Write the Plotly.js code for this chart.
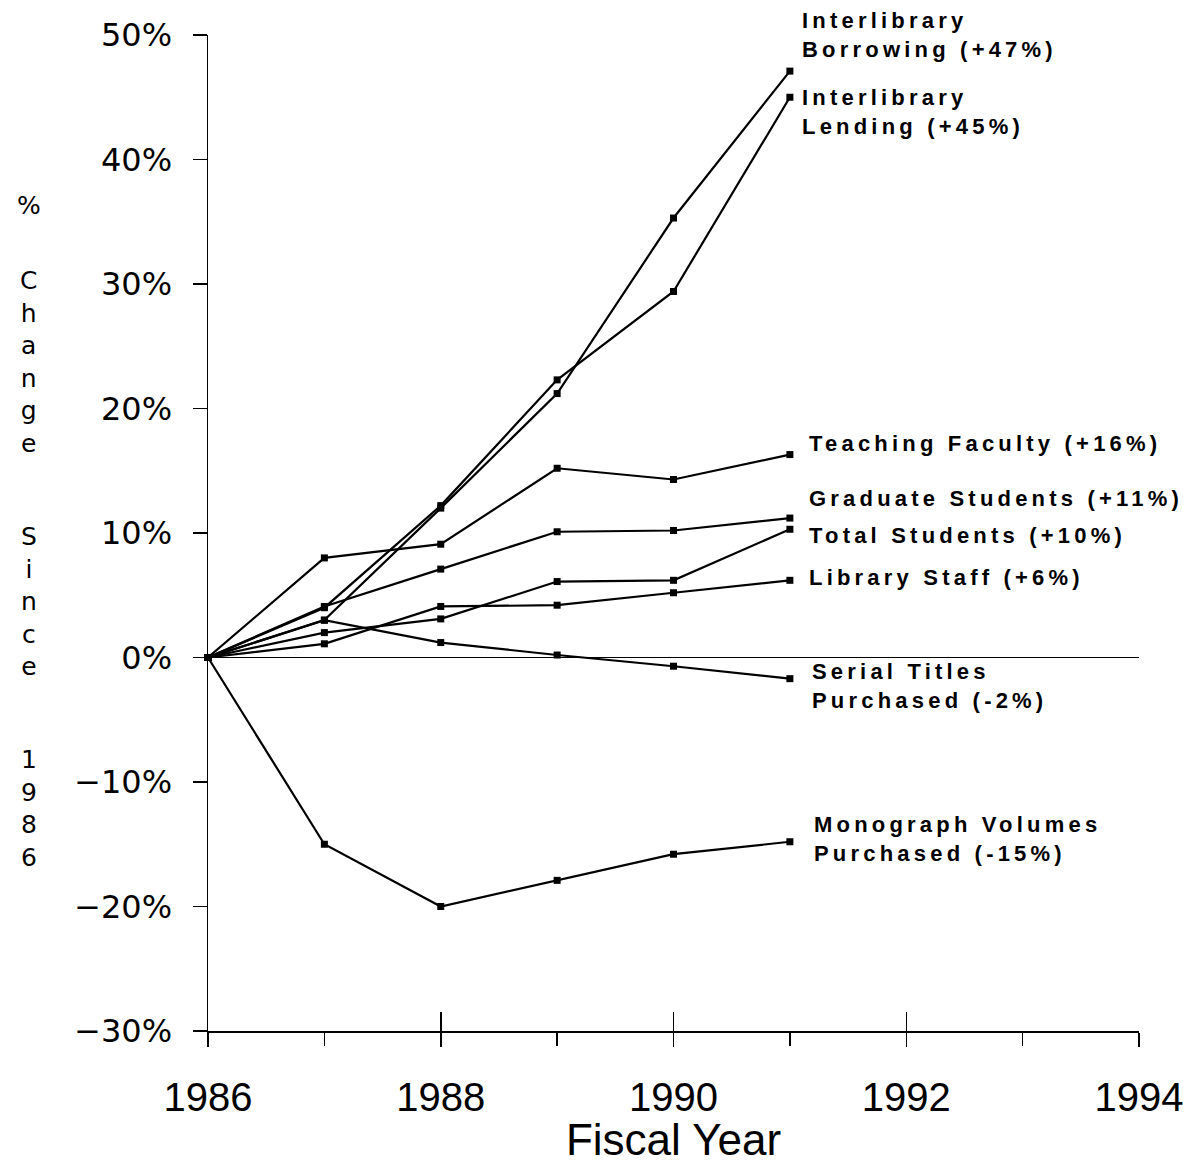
<!DOCTYPE html>
<html>
<head>
<meta charset="utf-8">
<script src="https://cdn.plot.ly/plotly-3.0.1.min.js"></script>
<style>
html,body{margin:0;padding:0;background:#fff;}
#chart{width:1190px;height:1164px;}
.annotation-text{letter-spacing:4.2px;}
</style>
</head>
<body>
<div id="chart"></div>
<script>
// ---- data ----
const years = [1986, 1987, 1988, 1989, 1990, 1991];
const borrowing  = [0, 3.0, 12.0, 21.2, 35.3, 47.1];
const lending    = [0, 4.0, 12.2, 22.3, 29.4, 45.0];
const teaching   = [0, 8.0, 9.1, 15.2, 14.3, 16.3];
const graduate   = [0, 4.1, 7.1, 10.1, 10.2, 11.2];
const totalStud  = [0, 2.0, 3.1, 6.1, 6.2, 10.3];
const staff      = [0, 1.1, 4.1, 4.2, 5.2, 6.2];
const serial     = [0, 3.0, 1.2, 0.2, -0.7, -1.7];
const monograph  = [0, -15.0, -20.0, -17.9, -15.8, -14.8];

const seriesNames = ["Interlibrary Borrowing", "Interlibrary Lending", "Teaching Faculty",
  "Graduate Students", "Total Students", "Library Staff", "Serial Titles Purchased",
  "Monograph Volumes Purchased"];
const seriesValues = [borrowing, lending, teaching, graduate, totalStud, staff, serial, monograph];
const labelTexts = ["Interlibrary<br>Borrowing (+47%)", "Interlibrary<br>Lending (+45%)",
  "Teaching Faculty (+16%)", "Graduate Students (+11%)", "Total Students (+10%)",
  "Library Staff (+6%)", "Serial Titles<br>Purchased (-2%)", "Monograph Volumes<br>Purchased (-15%)"];
const yTicks = [-30, -20, -10, 0, 10, 20, 30, 40, 50];
const yTickText = ["\u221230%", "\u221220%", "\u221210%", "0%", "10%", "20%", "30%", "40%", "50%"];
const xTicks = [1986, 1988, 1990, 1992, 1994];
const xTickText = ["1986", "1988", "1990", "1992", "1994"];
const yTitleGroups = ["%", "Change", "Since", "1986"];

// ---- layout helpers (positions, not data) ----
const labelPos = [
  {x: 1991.09, y: 50.0}, {x: 1991.09, y: 43.8}, {x: 1991.15, y: 17.2},
  {x: 1991.15, y: 12.8}, {x: 1991.15, y: 9.8}, {x: 1991.15, y: 6.4},
  {x: 1991.17, y: -2.3}, {x: 1991.19, y: -14.6}
];
const plotTop = 35, plotH = 996, plotL = 208, plotW = 931;
const groupCenterPx = [205, 362, 601, 808];
const titleXpx = 31;

const traces = seriesValues.map((vals, i) => ({
  type: 'scatter', mode: 'lines+markers', name: seriesNames[i],
  x: years, y: vals, cliponaxis: false,
  line: {color: '#000', width: 2.2},
  marker: {symbol: 'square', size: 7, color: '#000'},
  showlegend: false, hoverinfo: 'x+y+name'
}));
// invisible companion trace so the crossing-tick axis is drawn
traces.push({type: 'scatter', mode: 'lines', x: years, y: serial, xaxis: 'x2',
  line: {width: 0, color: 'rgba(0,0,0,0)'}, hoverinfo: 'skip', showlegend: false});

const annotations = [];
labelTexts.forEach((t, i) => {
  annotations.push({
    xref: 'x', yref: 'y', x: labelPos[i].x, y: labelPos[i].y,
    xanchor: 'left', yanchor: 'middle', align: 'left', showarrow: false,
    text: t, font: {family: 'Liberation Sans', size: 22, color: '#000', weight: 'bold'}
  });
});
yTitleGroups.forEach((g, gi) => {
  annotations.push({
    xref: 'paper', yref: 'paper',
    x: (titleXpx - plotL) / plotW, y: 1 - (groupCenterPx[gi] - plotTop) / plotH,
    xanchor: 'center', yanchor: 'middle', align: 'center', showarrow: false,
    text: Array.from(g).join('<br>'),
    font: {family: 'DejaVu Sans', size: 25, color: '#000'}
  });
});

const layout = {
  width: 1190, height: 1164,
  margin: {l: plotL, r: 51, t: plotTop, b: 133},
  paper_bgcolor: '#fff', plot_bgcolor: '#fff',
  showlegend: false,
  xaxis: {
    range: [1986, 1994], tickvals: xTicks, ticktext: xTickText,
    showgrid: false, zeroline: false, showline: true, linecolor: '#000', linewidth: 1.5,
    ticks: 'outside', ticklen: 14, tickwidth: 1.5, tickcolor: '#000',
    minor: {dtick: 1, tick0: 1986, ticks: 'outside', ticklen: 13, tickwidth: 1.5, tickcolor: '#000', showgrid: false},
    tickfont: {family: 'Liberation Sans', size: 40, color: '#000'},
    ticklabelstandoff: 16,
    title: {text: 'Fiscal Year', font: {family: 'Liberation Sans', size: 44, color: '#000'}, standoff: 27},
    fixedrange: true
  },
  xaxis2: {
    overlaying: 'x', matches: 'x', anchor: 'y', side: 'bottom',
    tickvals: xTicks, showticklabels: false, ticks: 'inside', ticklen: 19,
    tickwidth: 1.5, tickcolor: '#000', showgrid: false, zeroline: false, showline: false,
    fixedrange: true
  },
  yaxis: {
    range: [-30, 50], tickvals: yTicks, ticktext: yTickText,
    showgrid: false, zeroline: true, zerolinecolor: '#000', zerolinewidth: 1.5,
    showline: true, linecolor: '#000', linewidth: 1.5,
    ticks: 'outside', ticklen: 14, tickwidth: 1.5, tickcolor: '#000',
    tickfont: {family: 'DejaVu Sans', size: 32, color: '#000'},
    ticklabelstandoff: 14,
    fixedrange: true
  },
  annotations: annotations
};

Plotly.newPlot('chart', traces, layout, {displayModeBar: false, staticPlot: true});
</script>
</body>
</html>
